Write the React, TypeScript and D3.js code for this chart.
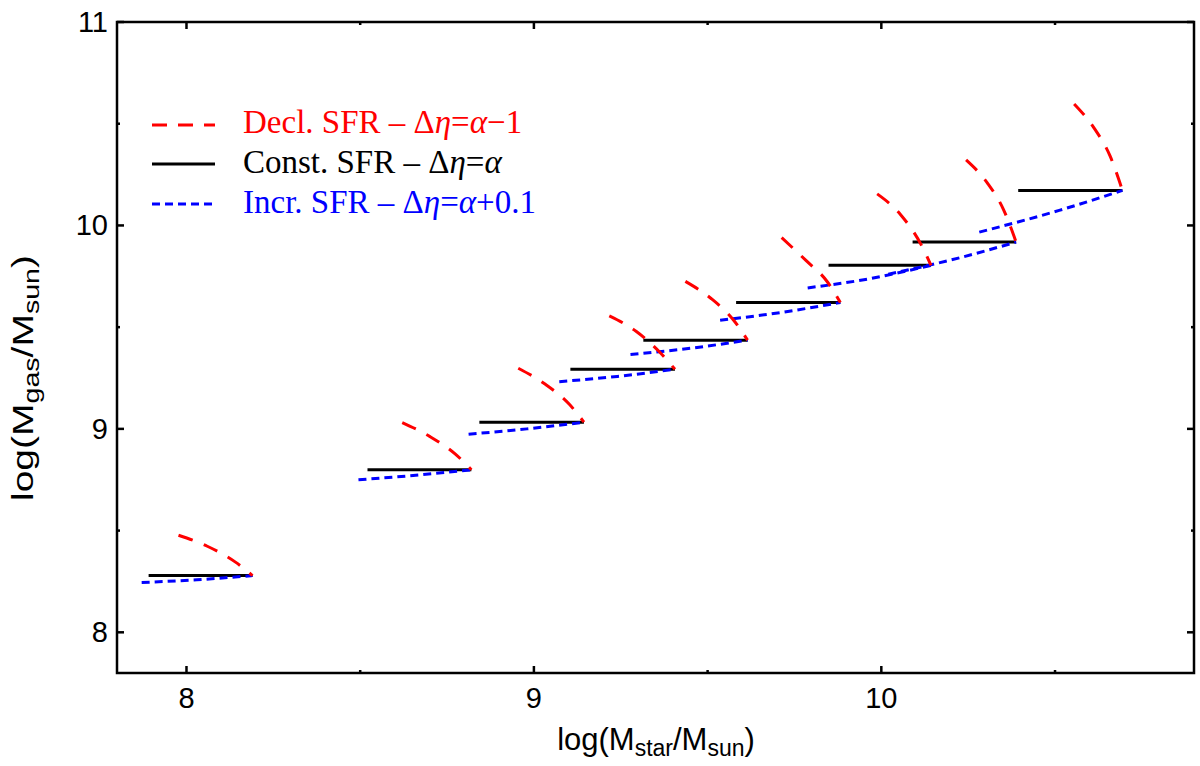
import React from 'react';
import * as d3 from 'd3';

// Axis setup
const xDomain: [number, number] = [7.8, 10.9];
const yDomain: [number, number] = [7.8, 11];
const xMajorTicks = [8, 9, 10];
const xMinorTicks = [8.5, 9.5, 10.5];
const yMajorTicks = [8, 9, 10, 11];
const yMinorTicks = [8.5, 9.5, 10.5];

// Constant SFR segments (horizontal): start, end log(Mstar), log(Mgas)
const constStart = [7.891, 8.521, 8.843, 9.105, 9.315, 9.582, 9.848, 10.09, 10.394];
const constEnd = [8.19, 8.82, 9.144, 9.406, 9.615, 9.882, 10.143, 10.388, 10.694];
const constGas = [8.279, 8.799, 9.033, 9.293, 9.436, 9.621, 9.804, 9.918, 10.172];

// Declining SFR tracks
const declTracks: [number, number][][] = [
  [[7.977, 8.477], [8.06, 8.423], [8.141, 8.345], [8.19, 8.279]],
  [[8.621, 9.031], [8.701, 8.962], [8.774, 8.876], [8.82, 8.799]],
  [[8.955, 9.298], [9.033, 9.219], [9.102, 9.121], [9.144, 9.033]],
  [[9.217, 9.555], [9.294, 9.48], [9.361, 9.379], [9.406, 9.293]],
  [[9.436, 9.725], [9.51, 9.641], [9.575, 9.534], [9.615, 9.436]],
  [[9.713, 9.94], [9.783, 9.828], [9.845, 9.722], [9.882, 9.621]],
  [[9.988, 10.155], [10.055, 10.054], [10.114, 9.907], [10.143, 9.804]],
  [[10.244, 10.322], [10.306, 10.207], [10.352, 10.077], [10.388, 9.918]],
  [[10.555, 10.597], [10.613, 10.477], [10.658, 10.343], [10.694, 10.172]],
];

// Increasing SFR tracks
const incrTracks: [number, number][][] = [
  [[7.871, 8.245], [8.03, 8.258], [8.19, 8.279]],
  [[8.495, 8.75], [8.66, 8.772], [8.82, 8.799]],
  [[8.812, 8.974], [8.98, 9.0], [9.144, 9.033]],
  [[9.073, 9.232], [9.24, 9.258], [9.406, 9.293]],
  [[9.278, 9.366], [9.45, 9.396], [9.615, 9.436]],
  [[9.536, 9.534], [9.71, 9.572], [9.882, 9.621]],
  [[9.788, 9.693], [9.966, 9.738], [10.143, 9.804]],
  [[10.02, 9.76], [10.2, 9.83], [10.388, 9.918]],
  [[10.282, 9.967], [10.512, 10.074], [10.694, 10.172]],
];

const RED = '#ff0000';
const BLUE = '#0000ff';
const SANS = '"Liberation Sans", Arial, Helvetica, sans-serif';
const SERIF = '"Liberation Serif", "Times New Roman", serif';

export default function App() {
  const W = 1200;
  const H = 766;
  const L = 117, R = 1194, T = 22, B = 673;
  const x = d3.scaleLinear().domain(xDomain).range([L, R]);
  const y = d3.scaleLinear().domain(yDomain).range([B, T]);
  const line = d3
    .line<[number, number]>()
    .x((d) => x(d[0]))
    .y((d) => y(d[1]))
    .curve(d3.curveMonotoneX);

  const majorLen = 7;
  const minorLen = 3;

  return (
    <svg width={W} height={H} style={{ position: 'absolute', left: 0, top: 0, background: '#fff' }}>
      <rect x={0} y={0} width={W} height={H} fill="#fff" />
      {/* constant SFR */}
      {constStart.map((s, i) => (
        <line key={'c' + i} x1={x(s)} x2={x(constEnd[i])} y1={y(constGas[i])} y2={y(constGas[i])}
          stroke="#000" strokeWidth={3} />
      ))}
      {/* increasing SFR */}
      {incrTracks.map((t, i) => (
        <path key={'b' + i} d={line(t) || ''} fill="none" stroke={BLUE} strokeWidth={3} strokeDasharray="8,5" />
      ))}
      {/* declining SFR */}
      {declTracks.map((t, i) => (
        <path key={'r' + i} d={line(t) || ''} fill="none" stroke={RED} strokeWidth={3} strokeDasharray="15,12" />
      ))}

      {/* frame */}
      <rect x={L} y={T} width={R - L} height={B - T} fill="none" stroke="#000" strokeWidth={2.5} />
      {/* x ticks */}
      {xMajorTicks.map((v) => (
        <g key={'xt' + v}>
          <line x1={x(v)} x2={x(v)} y1={B} y2={B - majorLen} stroke="#000" strokeWidth={2.5} />
          <line x1={x(v)} x2={x(v)} y1={T} y2={T + majorLen} stroke="#000" strokeWidth={2.5} />
          <text x={x(v)} y={708} textAnchor="middle" fontFamily={SANS} fontSize={29} fill="#000">{v}</text>
        </g>
      ))}
      {xMinorTicks.map((v) => (
        <g key={'xm' + v}>
          <line x1={x(v)} x2={x(v)} y1={B} y2={B - minorLen} stroke="#000" strokeWidth={2.5} />
          <line x1={x(v)} x2={x(v)} y1={T} y2={T + minorLen} stroke="#000" strokeWidth={2.5} />
        </g>
      ))}
      {/* y ticks */}
      {yMajorTicks.map((v) => (
        <g key={'yt' + v}>
          <line x1={L} x2={L + majorLen} y1={y(v)} y2={y(v)} stroke="#000" strokeWidth={2.5} />
          <line x1={R} x2={R - majorLen} y1={y(v)} y2={y(v)} stroke="#000" strokeWidth={2.5} />
          <text x={108} y={y(v) + 10} textAnchor="end" fontFamily={SANS} fontSize={29} fill="#000">{v}</text>
        </g>
      ))}
      {yMinorTicks.map((v) => (
        <g key={'ym' + v}>
          <line x1={L} x2={L + minorLen} y1={y(v)} y2={y(v)} stroke="#000" strokeWidth={2.5} />
          <line x1={R} x2={R - minorLen} y1={y(v)} y2={y(v)} stroke="#000" strokeWidth={2.5} />
        </g>
      ))}

      {/* x label */}
      <text x={656} y={750} textAnchor="middle" fontFamily={SANS} fontSize={31} fill="#000">
        log(M<tspan fontSize={23} dy={6}>star</tspan><tspan dy={-6}>/M</tspan>
        <tspan fontSize={23} dy={6}>sun</tspan><tspan dy={-6}>)</tspan>
      </text>
      {/* y label */}
      <text transform="translate(33,378) rotate(-90) scale(1.3,1)" textAnchor="middle" fontFamily={SANS} fontSize={30} fill="#000">
        log(M<tspan fontSize={22} dy={6}>gas</tspan><tspan dy={-6}>/M</tspan>
        <tspan fontSize={22} dy={6}>sun</tspan><tspan dy={-6}>)</tspan>
      </text>

      {/* legend */}
      <line x1={152} x2={215} y1={125} y2={125} stroke={RED} strokeWidth={3} strokeDasharray="15,11" />
      <text x={243} y={133} fontFamily={SERIF} fontSize={33} fill={RED}>
        Decl. SFR – Δ<tspan fontStyle="italic">η</tspan>=<tspan fontStyle="italic">α</tspan>−1
      </text>
      <line x1={152} x2={215} y1={164} y2={164} stroke="#000" strokeWidth={3} />
      <text x={243} y={173} fontFamily={SERIF} fontSize={33} fill="#000">
        Const. SFR – Δ<tspan fontStyle="italic">η</tspan>=<tspan fontStyle="italic">α</tspan>
      </text>
      <line x1={152} x2={215} y1={204} y2={204} stroke={BLUE} strokeWidth={3} strokeDasharray="8,5" />
      <text x={243} y={213} fontFamily={SERIF} fontSize={33} fill={BLUE}>
        Incr. SFR – Δ<tspan fontStyle="italic">η</tspan>=<tspan fontStyle="italic">α</tspan>+0.1
      </text>
    </svg>
  );
}
